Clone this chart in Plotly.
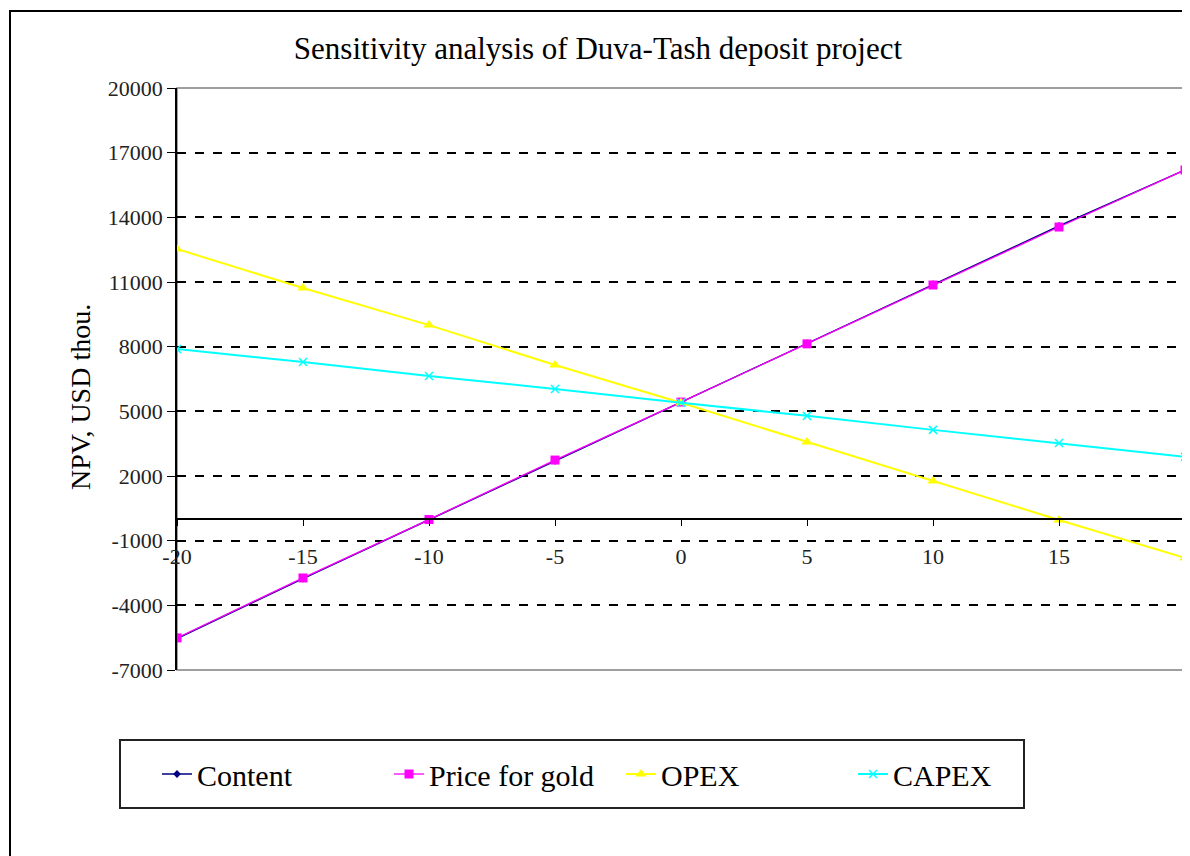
import plotly.graph_objects as go

x_change = [-20, -15, -10, -5, 0, 5, 10, 15, 20]
content = [-5540, -2760, -30, 2700, 5430, 8150, 10900, 13600, 16200]
price_gold = [-5510, -2730, -20, 2740, 5430, 8130, 10860, 13550, 16200]
opex = [12530, 10720, 9000, 7150, 5400, 3580, 1770, -40, -1800]
capex = [7890, 7290, 6640, 6040, 5400, 4790, 4140, 3530, 2890]
y_ticks = [-7000, -4000, -1000, 2000, 5000, 8000, 11000, 14000, 17000, 20000]
x_ticks = [-20, -15, -10, -5, 0, 5, 10, 15, 20]

FONT = "Liberation Serif, Times New Roman, serif"

# figure is offset by the page's 8px body margin
W, H = 1182, 848
L, R, T, B = 169, 5, 80, 186
PW, PH = W - L - R, H - T - B


def px(X):
    return (X - L) / PW


def py(Y):
    return (H - B - Y) / PH


fig = go.Figure()
fig.add_trace(go.Scatter(x=x_change, y=content, name="Content", mode="lines+markers",
                         line=dict(color="#000080", width=1.5),
                         marker=dict(symbol="diamond", size=6, color="#000080")))
fig.add_trace(go.Scatter(x=x_change, y=price_gold, name="Price for gold", mode="lines+markers",
                         line=dict(color="#FF00FF", width=1.3),
                         marker=dict(symbol="square", size=9, color="#FF00FF")))
fig.add_trace(go.Scatter(x=x_change, y=opex, name="OPEX", mode="lines+markers",
                         line=dict(color="#FFFF00", width=2),
                         marker=dict(symbol="triangle-up", size=10, color="#FFFF00")))
fig.add_trace(go.Scatter(x=x_change, y=capex, name="CAPEX", mode="lines+markers",
                         line=dict(color="#00FFFF", width=2),
                         marker=dict(symbol="x-thin", size=8, line=dict(color="#00FFFF", width=1.5))))

fig.update_layout(
    width=W, height=H,
    paper_bgcolor="white", plot_bgcolor="white",
    margin=dict(l=L, r=R, t=T, b=B),
    font=dict(family=FONT, size=22, color="black"),
    title=dict(text="Sensitivity analysis of Duva-Tash deposit project",
               font=dict(family=FONT, size=31, color="black"),
               x=590 / W, xref="container", xanchor="center",
               y=1 - 40 / H, yref="container", yanchor="middle"),
    showlegend=True,
    legend=dict(orientation="h", x=px(149), xanchor="left",
                y=py(766), yanchor="middle",
                font=dict(family=FONT, size=30, color="black"),
                entrywidth=187, entrywidthmode="pixels",
                bgcolor="rgba(0,0,0,0)", borderwidth=0),
    xaxis=dict(range=[-20, 20], tickvals=x_ticks, ticktext=[str(v) for v in x_ticks],
               anchor="free", position=7000 / 27000,
               showline=True, linecolor="black", linewidth=1.5,
               ticks="outside", ticklen=6, tickcolor="black",
               ticklabelstandoff=12,
               showgrid=False, zeroline=False,
               tickfont=dict(family=FONT, size=22, color="#222")),
    yaxis=dict(range=[-7000, 20000], tickvals=y_ticks, ticktext=[str(v) for v in y_ticks],
               showline=True, linecolor="black", linewidth=1.5,
               ticks="outside", ticklen=8, tickcolor="black",
               showgrid=True, gridcolor="black", griddash="dash", gridwidth=1.5,
               zeroline=False,
               tickfont=dict(family=FONT, size=22, color="#222")),
)

# plot-area frame
fig.add_shape(type="rect", xref="paper", yref="paper", x0=0, x1=1, y0=0, y1=1,
              line=dict(color="#808080", width=1.5), layer="below")
# outer chart border
fig.add_shape(type="rect", xref="paper", yref="paper",
              x0=px(2), x1=px(1200), y0=py(870), y1=py(3),
              line=dict(color="black", width=2))
# legend border
fig.add_shape(type="rect", xref="paper", yref="paper",
              x0=px(112), x1=px(1016), y0=py(800), y1=py(732),
              line=dict(color="#222", width=2))

fig.add_annotation(text="NPV, USD thou.", textangle=-90, showarrow=False,
                   xref="paper", yref="paper", x=px(72), y=py(389),
                   xanchor="center", yanchor="middle",
                   font=dict(family=FONT, size=28, color="black"))

fig.write_html("out.html")
